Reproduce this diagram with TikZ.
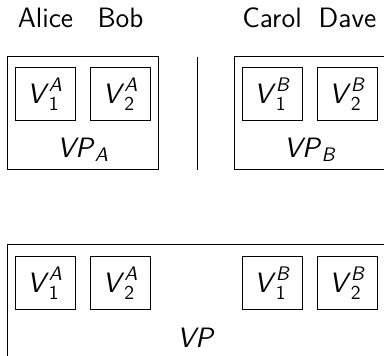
\documentclass[tikz,border=0pt]{standalone}
\usepackage{amsmath}
\newcommand{\vsym}[2]{$\textit{V\/}_{\text{#1}}^{\textit{#2}}$}
\begin{document}
\begin{tikzpicture}[x=0.5pt,y=-0.5pt,
  every node/.style={font=\fontsize{14}{16}\selectfont\sffamily},
  vbox/.style={draw, line width=0.5pt, minimum width=30pt, minimum height=26.5pt, inner sep=0pt},
  frame/.style={draw, line width=0.5pt},
  lbl/.style={inner sep=0pt}]
\useasboundingbox (0,0) rectangle (384,356);
\clip (0,0) rectangle (384,356);
% names
\node[lbl, anchor=base] (alice) at (45.5,28) {Alice};
\node[lbl, anchor=base] (bob) at (120.5,28) {Bob};
\node[lbl, anchor=base] (carol) at (272,28) {Carol};
\node[lbl, anchor=base] (dave) at (347.5,28) {Dave};
% top frames
\draw[frame] (7,57) rectangle (158.5,170);
\draw[frame] (234,57) rectangle (385.5,170);
\draw[line width=0.5pt] (197,57) -- (197,170);
\node[vbox] (v1a) at (45,94.5) {\vsym{1}{A}};
\node[vbox] (v2a) at (120.5,94.5) {\vsym{2}{A}};
\node[vbox] (v1b) at (272,94.5) {\vsym{1}{B}};
\node[vbox] (v2b) at (347,94.5) {\vsym{2}{B}};
\node[lbl] (vpa) at (83,150) {$\textit{VP\/}_{\textit{A}}$};
\node[lbl] (vpb) at (309.75,150) {$\textit{VP\/}_{\textit{B}}$};
% bottom frame
\draw[frame] (7,245) rectangle (385.5,358);
\node[vbox] (w1a) at (45,283.5) {\vsym{1}{A}};
\node[vbox] (w2a) at (120.5,283.5) {\vsym{2}{A}};
\node[vbox] (w1b) at (272,283.5) {\vsym{1}{B}};
\node[vbox] (w2b) at (347,283.5) {\vsym{2}{B}};
\node[lbl] (vp) at (196,338) {\textit{VP}};
\end{tikzpicture}
\end{document}
